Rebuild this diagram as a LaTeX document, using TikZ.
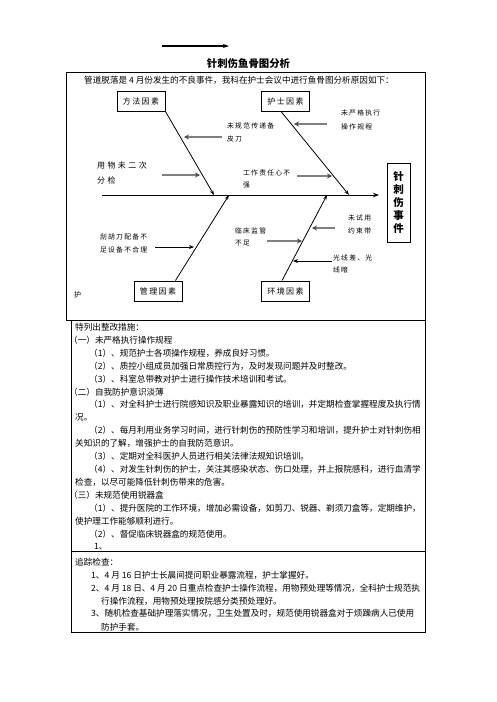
\documentclass[tikz,border=0pt]{standalone}
\usepackage{fontspec}
\newfontfamily\cjk{Noto Sans CJK SC}
\newfontfamily\cjksp{Noto Sans CJK SC}[LetterSpace=18]
\newfontfamily\cjkwide{Noto Sans CJK SC}[LetterSpace=30]
\usetikzlibrary{arrows.meta}

\begin{document}
\begin{tikzpicture}[x=1pt,y=-1pt,
	line/.style={font=\cjk\fontsize{8.6}{10}\selectfont,anchor=west,inner sep=0pt},
	cause/.style={font=\cjksp\fontsize{6.8}{12.5}\selectfont,anchor=west,inner sep=0pt,align=left},
	factor/.style={draw,line width=0.9pt,minimum width=48pt,minimum height=20pt,inner sep=0pt,font=\cjksp\fontsize{8}{10}\selectfont},
	bone/.style={line width=0.8pt,-{Stealth[length=5pt,width=3.5pt]}},
	twig/.style={draw=black!50,line width=1.8pt,-{Stealth[length=5pt,width=5pt,black!70]}},
	darktwig/.style={line width=1pt,-{Stealth[length=5pt,width=4pt]}}]
	\useasboundingbox (0,0) rectangle (496,702);
	
	\coordinate (top1) at (162,46);
	\coordinate (top2) at (229,46);
	\draw[line width=1.2pt,-{Stealth[length=6pt,width=4pt]}] (top1) -- (top2);
	\node[font=\cjk\bfseries\fontsize{10.4}{12}\selectfont,inner sep=0pt] (title) at (248.5,64) {针刺伤鱼骨图分析};
	
	\draw[line width=0.9pt] (66,72) rectangle (425,320);
	\draw[line width=0.9pt] (71,320) rectangle (425,632);
	\draw[line width=0.9pt] (71,551) -- (425,551);
	
	\node[line] (intro) at (84,80) {管道脱落是 4 月份发生的不良事件，我科在护士会议中进行鱼骨图分析原因如下：};
	
	% fish
	\coordinate (tail) at (102,195);
	\coordinate (tip) at (379,195);
	\draw[line width=1pt,-{Stealth[length=6pt,width=4.5pt]}] (tail) -- (tip);
	\node[draw,line width=0.9pt,minimum width=23pt,minimum height=79pt,inner sep=0pt,
		font=\cjk\bfseries\fontsize{10.5}{13}\selectfont,align=center] (event) at (398.5,202.5) {针\\刺\\伤\\事\\件};
	
	\node[factor] (fangfa) at (141,101) {方法因素};
	\node[factor] (hushi) at (285.5,101) {护士因素};
	\node[factor] (guanli) at (158,291) {管理因素};
	\node[factor] (huanjing) at (285.5,291) {环境因素};
	
	\coordinate (b1) at (214,195);
	\coordinate (b2) at (349,195);
	\coordinate (b3) at (229,195);
	\coordinate (b4) at (327,195);
	\draw[bone] (fangfa.south east) -- (b1);
	\draw[bone] ([xshift=-4.5pt]hushi.south) -- (b2);
	\draw[bone] ([xshift=-7pt]guanli.north east) -- (b3);
	\draw[bone] ([xshift=-3.5pt]huanjing.north) -- (b4);
	
	\node[cause] (c1) at (227,132.5) {未规范传递备\\皮刀};
	\node[cause,font=\cjkwide\fontsize{8}{15}\selectfont] (c2) at (97,172.5) {用物未二次\\分检};
	\node[cause] (c3) at (243,179) {工作责任心不\\强};
	\node[cause,font=\cjksp\fontsize{6.8}{14}\selectfont] (c4) at (341,120) {未严格执行\\操作规程};
	\node[cause,font=\cjksp\fontsize{6.8}{13}\selectfont] (c5) at (100,243.5) {刮胡刀配备不\\足设备不合理};
	\node[cause] (c6) at (235,237) {临床监管\\不足};
	\node[cause] (c7) at (348,224.5) {未试用\\约束带};
	\node[cause] (c8) at (333,264) {光线差、光\\线暗};
	
	\coordinate (t1) at (222,137); \coordinate (h1) at (184,137);
	\coordinate (t2) at (162,175); \coordinate (h2) at (200,175);
	\coordinate (t3) at (297,176); \coordinate (h3) at (332,176);
	\coordinate (t4) at (327,124); \coordinate (h4) at (294,124);
	\coordinate (t5) at (155,247); \coordinate (h5) at (194,247);
	\coordinate (t6) at (267,241); \coordinate (h6) at (302,241);
	\coordinate (t7) at (335,228); \coordinate (h7) at (312,228);
	\coordinate (t8) at (332,261); \coordinate (h8) at (293,261);
	\draw[twig] (t1) -- (h1);
	\draw[twig] (t2) -- (h2);
	\draw[twig] (t3) -- (h3);
	\draw[twig] (t4) -- (h4);
	\draw[darktwig] (t5) -- (h5);
	\draw[twig] (t6) -- (h6);
	\draw[twig] (t7) -- (h7);
	\draw[darktwig] (t8) -- (h8);
	
	\node[line,font=\cjk\fontsize{7}{9}\selectfont] (hu) at (74,295) {护};
	
	% measures
	\foreach \i/\x/\t in {0/75/特列出整改措施：,
		1/69/（一）未严格执行操作规程,
		2/89/（1）、规范护士各项操作规程，养成良好习惯。,
		3/89/（2）、质控小组成员加强日常质控行为，及时发现问题并及时整改。,
		4/89/（3）、科室总带教对护士进行操作技术培训和考试。,
		5/69/（二）自我防护意识淡薄,
		6/89/（1）、对全科护士进行院感知识及职业暴露知识的培训，并定期检查掌握程度及执行情,
		7/75/况。,
		8/89/（2）、每月利用业务学习时间，进行针刺伤的预防性学习和培训，提升护士对针刺伤相,
		9/75/关知识的了解，增强护士的自我防范意识。,
		10/89/（3）、定期对全科医护人员进行相关法律法规知识培训。,
		11/89/（4）、对发生针刺伤的护士，关注其感染状态、伤口处理，并上报院感科，进行血清学,
		12/75/检查，以尽可能降低针刺伤带来的危害。,
		13/69/（三）未规范使用锐器盒,
		14/89/（1）、提升医院的工作环境，增加必需设备，如剪刀、锐器、剃须刀盒等，定期维护，,
		15/75/使护理工作能够顺利进行。,
		16/89/（2）、督促临床锐器盒的规范使用。,
		17/94/1、}
		\node[line] (m\i) at (\x,{327+12.95*\i}) {\t};
	
	% check
	\foreach \i/\x/\t in {0/75/追踪检查：,
		1/91/1、4 月 16 日护士长晨间提问职业暴露流程，护士掌握好。,
		2/91/2、4 月 18 日、4 月 20 日重点检查护士操作流程，用物预处理等情况，全科护士规范执,
		3/101/行操作流程，用物预处理按院感分类预处理好。,
		4/91/3、随机检查基础护理落实情况，卫生处置及时，规范使用锐器盒对于烦躁病人已使用,
		5/101/防护手套。}
		\node[line] (k\i) at (\x,{562+12.95*\i}) {\t};
\end{tikzpicture}
\end{document}
